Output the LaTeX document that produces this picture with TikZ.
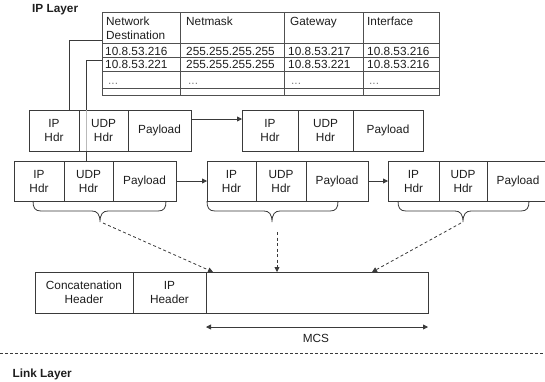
\documentclass[tikz,border=0pt]{standalone}
\usepackage{fontspec}
\setmainfont{Liberation Sans}
\usetikzlibrary{arrows.meta,calc}
\definecolor{ink}{HTML}{1E1E1E}
\definecolor{rule}{HTML}{3A3A3A}
\definecolor{gridcol}{HTML}{505050}

\begin{document}
\begin{tikzpicture}[x=1pt,y=-1pt,
  txt/.style={font=\fontsize{11.8}{14}\selectfont, text=ink},
  cell/.style={txt, draw=rule, line width=0.8pt, rectangle, inner sep=0pt,
               outer sep=0pt, anchor=north west, align=center, fill=white,
               minimum height=41pt},
  ttxt/.style={txt, anchor=base west, inner sep=0pt},
  dots/.style={ttxt, text=gray},
  gridline/.style={draw=gridcol, line width=0.7pt},
  wire/.style={draw=rule, line width=0.8pt},
  headarrow/.style={wire, -{Triangle[length=5pt,width=5pt]}},
  dasharrow/.style={draw=rule, line width=0.8pt, dash pattern=on 3pt off 2.5pt,
                    -{Triangle[length=5pt,width=5pt]}},
  bracepath/.style={draw=rule, line width=0.8pt},
  title/.style={font=\fontsize{11.8}{14}\selectfont\bfseries, text=ink,
                anchor=base west, inner sep=0pt}
]
\useasboundingbox (0,0) rectangle (545,381);
\clip (0,0) rectangle (545,381);

% ---------- titles ----------
\node[title] (iplayer) at (32,12.7) {IP Layer};
\node[title] (linklayer) at (12.5,377) {Link Layer};

% ---------- routing table ----------
\draw[gridline] (102,12) rectangle (439,95);
\foreach \y in {43,57,71,88} \draw[gridline] (102,\y) -- (439,\y);
\foreach \x in {180,284,363} \draw[gridline] (\x,12) -- (\x,95);

\node[ttxt] (h1a) at (106,25.5) {Network};
\node[ttxt] (h1b) at (106,39) {Destination};
\node[ttxt] (h2) at (186,25.5) {Netmask};
\node[ttxt] (h3) at (290,25.5) {Gateway};
\node[ttxt] (h4) at (367,25.5) {Interface};

\node[ttxt] (r1c1) at (105,55) {10.8.53.216};
\node[ttxt] (r1c2) at (186,55) {255.255.255.255};
\node[ttxt] (r1c3) at (288,55) {10.8.53.217};
\node[ttxt] (r1c4) at (367,55) {10.8.53.216};

\node[ttxt] (r2c1) at (105,68.5) {10.8.53.221};
\node[ttxt] (r2c2) at (186,68.5) {255.255.255.255};
\node[ttxt] (r2c3) at (288,68.5) {10.8.53.221};
\node[ttxt] (r2c4) at (367,68.5) {10.8.53.216};

\node[dots] (r3c1) at (108,84) {...};
\node[dots] (r3c2) at (188,84) {...};
\node[dots] (r3c3) at (291,84) {...};
\node[dots] (r3c4) at (369,84) {...};

\coordinate (t1) at (102,40);
\coordinate (t2) at (102,60);

% ---------- upper packet pair ----------
\node[cell, minimum width=50pt] (A1) at (29,110) {IP\\Hdr};
\node[cell, minimum width=49pt] (A2) at (79,110) {UDP\\Hdr};
\node[cell, minimum width=63pt] (A3) at (128,110) {\raisebox{2.5pt}{Payload}};

\node[cell, minimum width=56pt] (B1) at (242,110) {IP\\Hdr};
\node[cell, minimum width=55pt] (B2) at (298,110) {UDP\\Hdr};
\node[cell, minimum width=70pt] (B3) at (353,110) {\raisebox{2.5pt}{Payload}};

% ---------- lower packet row ----------
\node[cell, minimum width=50pt, minimum height=40pt] (C1) at (14,161) {IP\\Hdr};
\node[cell, minimum width=49pt, minimum height=40pt] (C2) at (64,161) {UDP\\Hdr};
\node[cell, minimum width=63pt, minimum height=40pt] (C3) at (113,161) {\raisebox{2.5pt}{Payload}};

\node[cell, minimum width=49pt, minimum height=40pt] (D1) at (207,161) {IP\\Hdr};
\node[cell, minimum width=50pt, minimum height=40pt] (D2) at (256,161) {UDP\\Hdr};
\node[cell, minimum width=62pt, minimum height=40pt] (D3) at (306,161) {\raisebox{2.5pt}{Payload}};

\node[cell, minimum width=51pt, minimum height=40pt] (E1) at (388,161) {IP\\Hdr};
\node[cell, minimum width=48pt, minimum height=40pt] (E2) at (439,161) {UDP\\Hdr};
\node[cell, minimum width=62pt, minimum height=40pt] (E3) at (487,161) {\raisebox{2.5pt}{Payload}};

% ---------- concatenated frame ----------
\node[cell, minimum width=98pt] (K1) at (35,272) {Concatenation\\Header};
\node[cell, minimum width=73pt] (K2) at (133,272) {IP\\Header};
\node[cell, minimum width=222pt] (K3) at (206,272) {};

% ---------- table entries to packets ----------
\draw[wire] (t1) -| ([xshift=40pt]A1.north west);
\draw[wire] (t2) -| ([xshift=22pt]C2.north west |- A2.north);
\draw[draw=gray!55, line width=0.8pt] ([xshift=22pt]C2.north west |- A2.north)
      -- ([xshift=22pt]C2.north west |- A2.south);
\draw[wire] ([xshift=22pt]C2.north west |- A2.south) -- ([xshift=22pt]C2.north west);

% ---------- forwarding arrows ----------
\draw[headarrow] ([yshift=11.5pt]A3.east) -- ([yshift=11.5pt]B1.west);
\draw[headarrow] (C3.east) -- (D1.west);
\draw[headarrow] (D3.east) -- (E1.west);

% ---------- braces under the lower packets ----------
\coordinate (b1) at (100,222);
\coordinate (b2) at (272,222);
\coordinate (b3) at (463,222);
\draw[bracepath] (33,201) .. controls (33,208) and (35,211) .. (41,211) -- (92,211)
  .. controls (97,211) and (100,214) .. (b1) .. controls (100,214) and (103,211) .. (108,211)
  -- (158,211) .. controls (164,211) and (166,208) .. (166,201);
\draw[bracepath] (207,201) .. controls (207,208) and (209,211) .. (215,211) -- (264,211)
  .. controls (269,211) and (272,214) .. (b2) .. controls (272,214) and (275,211) .. (280,211)
  -- (330,211) .. controls (336,211) and (338,208) .. (338,201);
\draw[bracepath] (398,201) .. controls (398,208) and (400,211) .. (406,211) -- (455,211)
  .. controls (460,211) and (463,214) .. (b3) .. controls (463,214) and (466,211) .. (471,211)
  -- (521,211) .. controls (527,211) and (529,208) .. (529,201);

% ---------- concatenation into the frame ----------
\coordinate (b2s) at (277,232);
\draw[dasharrow] ([xshift=3pt,yshift=-1pt]b1) -- ([xshift=7pt]K3.north west);
\draw[dasharrow] (b2s) -- (b2s |- K3.north);
\draw[dasharrow] ([xshift=-2pt,yshift=-1pt]b3) -- ([xshift=166pt]K3.north west);

% ---------- MCS span ----------
\draw[wire, {Triangle[length=5pt,width=5pt]}-{Triangle[length=5pt,width=5pt]}]
  ([yshift=-14pt]K3.south west) -- ([yshift=-14pt]K3.south east);
\node[txt, anchor=center, inner sep=0pt] (mcs) at (316,338) {MCS};

% ---------- layer boundary ----------
\coordinate (sepL) at (0,353);
\coordinate (sepR) at (545,353);
\draw[draw=rule, line width=0.8pt, dash pattern=on 3pt off 2pt] (sepL) -- (sepR);
\end{tikzpicture}
\end{document}
